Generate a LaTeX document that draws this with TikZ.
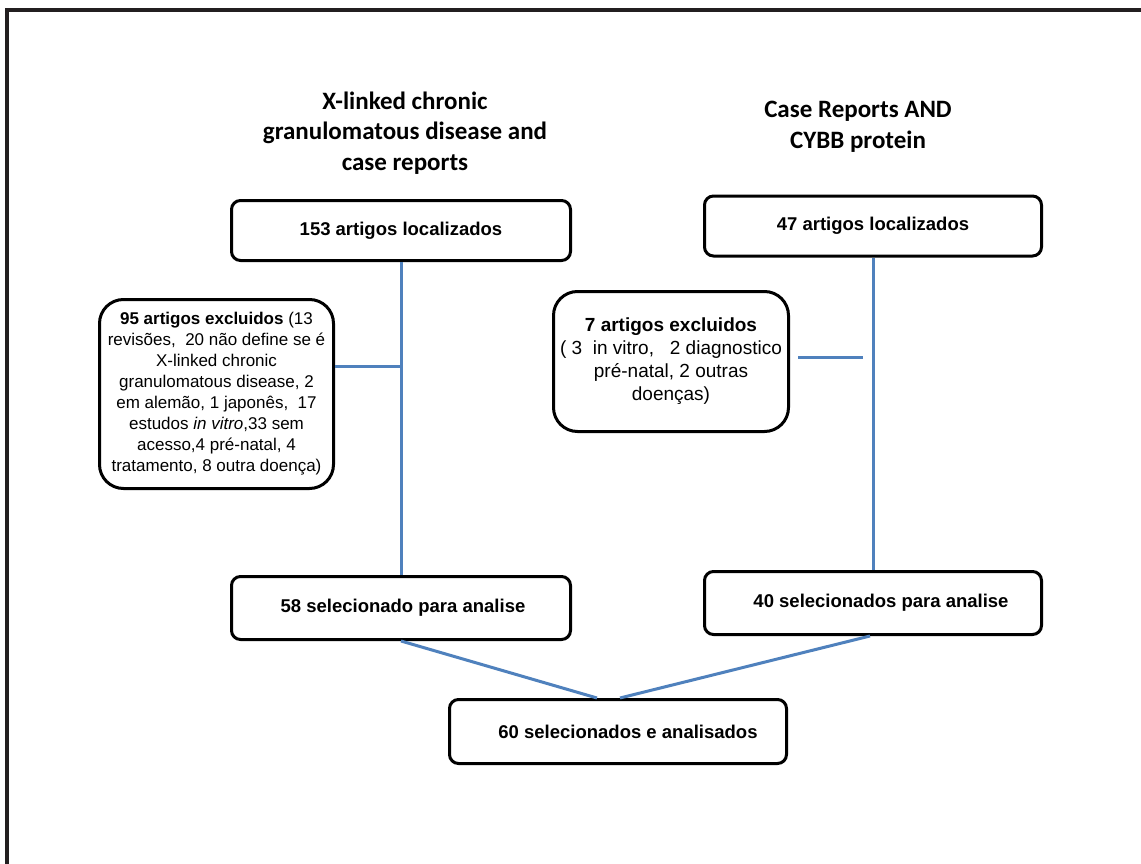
\documentclass[tikz,border=0pt]{standalone}
\usepackage{fontspec}
\setmainfont{Liberation Sans}
\newfontfamily\hdrfont{Carlito}
\definecolor{lineblue}{RGB}{79,129,189}
\definecolor{framegray}{RGB}{35,31,32}
\begin{document}
\begin{tikzpicture}[x=1pt,y=-1pt,
  box/.style={draw=black, line width=3pt, rounded corners=9pt, fill=white, inner sep=0pt,
    font=\fontsize{18.5}{22}\selectfont\bfseries},
  excl/.style={draw=black, line width=3pt, rounded corners=24pt, fill=white, inner sep=0pt, align=center},
  link/.style={draw=lineblue, line width=3pt},
  hdr/.style={align=center, font=\hdrfont\bfseries\fontsize{25}{30.5}\selectfont}]
\useasboundingbox (0,0) rectangle (1141,864);
\fill[white] (0,0) rectangle (1141,864);
\draw[framegray, line width=4.5pt] (7,864) -- (7,10) -- (1141,10);

\node[hdr] (h1) at (405,133) {X-linked chronic\\granulomatous  disease and\\case reports};
\node[hdr] (h2) at (858,127) {Case Reports AND\\CYBB protein};

\node[box, minimum width=339pt, minimum height=60pt] (loc1) at (401,230.5) {153 artigos localizados\hspace{22pt}};
\node[box, minimum width=337pt, minimum height=60pt] (loc2) at (873,226) {47 artigos localizados};
\node[box, minimum width=339pt, minimum height=63pt] (sel1) at (401,608) {\hspace{4pt}58 selecionado para analise};
\node[box, minimum width=337pt, minimum height=63pt] (sel2) at (873,603) {\hspace{16pt}40 selecionados para analise};
\node[box, minimum width=337pt, minimum height=64pt] (fin) at (618,731.5) {\hspace{20pt}60 selecionados e analisados};

\node[excl, minimum width=234pt, minimum height=189pt, font=\fontsize{17}{21}\selectfont] (ex1) at (216.5,394)
 {\textbf{95 artigos excluidos} (13\\revisões,\ \ 20 não define se é\\X-linked chronic\\granulomatous disease, 2\\em alemão, 1 japonês,\ \ 17\\estudos \textit{in vitro},33 sem\\acesso,4 pré-natal, 4\\tratamento, 8 outra doença)};
\node[excl, minimum width=235pt, minimum height=140pt, font=\fontsize{19}{23}\selectfont] (ex2) at (671,361.5)
 {\textbf{7 artigos excluidos}\\( 3\ \ in vitro,\ \ \ 2 diagnostico\\pré-natal, 2 outras\\doenças)};

\coordinate (j1) at (401,366);
\coordinate (k1) at (798,357);
\coordinate (k2) at (863,357);

\draw[link] (loc1.south) -- (sel1.north);
\draw[link] (ex1.east |- j1) -- (j1);
\draw[link] (loc2.south) -- (sel2.north);
\draw[link] (k1) -- (k2);
\draw[link] (sel1.south) -- ([xshift=-21pt]fin.north);
\draw[link] ([xshift=-3pt]sel2.south) -- ([xshift=2pt]fin.north);
\end{tikzpicture}
\end{document}
